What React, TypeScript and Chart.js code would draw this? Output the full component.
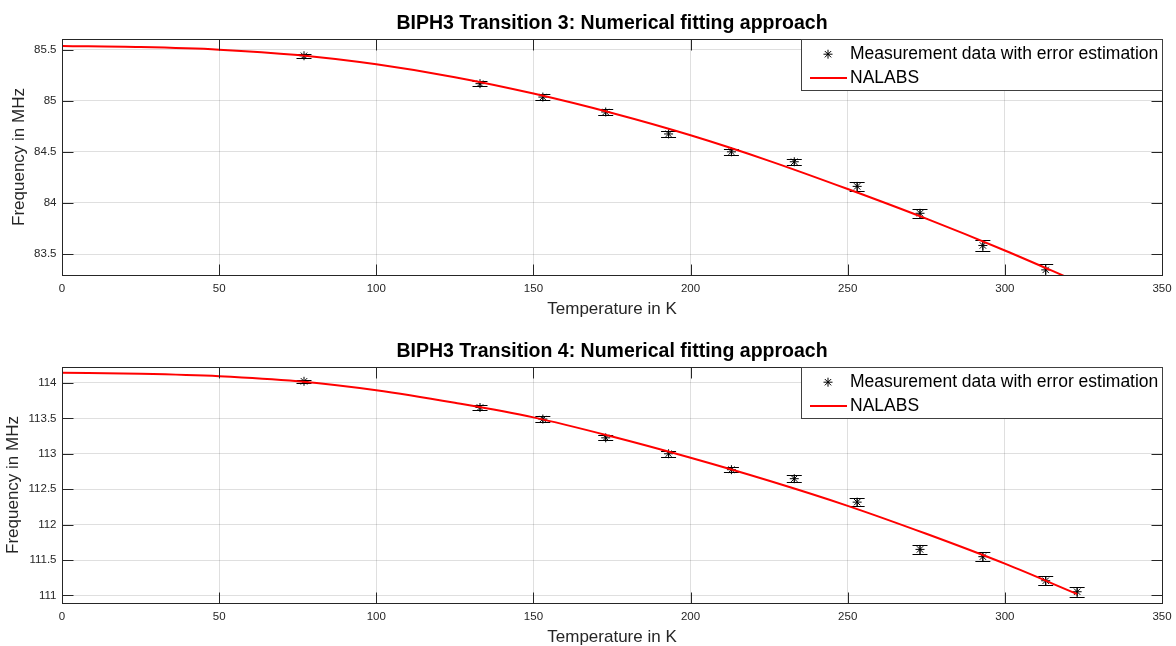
import React, { useEffect, useRef } from "react";
import { Chart, registerables } from "chart.js";

Chart.register(...registerables);

const FONT = '"Liberation Sans", Arial, Helvetica, sans-serif';

// ---------------- data ----------------
const tempsT3 = [77, 133, 153, 173, 193, 213, 233, 253, 273, 293, 313];
const freqT3 = [85.44, 85.167, 85.036, 84.89, 84.675, 84.5, 84.403, 84.162, 83.899, 83.584, 83.345];
const errT3 = [0.018, 0.023, 0.028, 0.026, 0.028, 0.029, 0.031, 0.047, 0.045, 0.054, 0.055];

const tempsT4 = [77, 133, 153, 173, 193, 213, 233, 253, 273, 293, 313, 323];
const freqT4 = [114.023, 113.653, 113.49, 113.225, 113.0, 112.775, 112.648, 112.317, 111.65, 111.547, 111.207, 111.052];
const errT4 = [0.025, 0.033, 0.038, 0.035, 0.04, 0.038, 0.047, 0.059, 0.063, 0.066, 0.066, 0.07];

const fitTemps = [0, 25, 50, 75, 100, 125, 150, 175, 200, 225, 250, 275, 300, 323];
const fitT3 = [85.535, 85.525, 85.5, 85.447, 85.356, 85.23, 85.07, 84.88, 84.662, 84.412, 84.136, 83.846, 83.535, 83.23];
const fitT4 = [114.145, 114.13, 114.096, 114.025, 113.898, 113.72, 113.514, 113.244, 112.944, 112.619, 112.265, 111.87, 111.448, 111.02];

const xTicks = [0, 50, 100, 150, 200, 250, 300, 350];
const xRange = [0, 350];
const yTicksT3 = [83.5, 84, 84.5, 85, 85.5];
const yRangeT3 = [83.295, 85.604];
const yTicksT4 = [111, 111.5, 112, 112.5, 113, 113.5, 114];
const yRangeT4 = [110.893, 114.225];

const titleT3 = "BIPH3 Transition 3: Numerical fitting approach";
const titleT4 = "BIPH3 Transition 4: Numerical fitting approach";
const xLabel = "Temperature in K";
const yLabel = "Frequency in MHz";
const legendLabels = ["Measurement data with error estimation", "NALABS"];

// ---------------- styling ----------------
const AXIS_COLOR = "#262626";
const GRID_COLOR = "rgba(38,38,38,0.15)";
const RED = "#ff0000";

type PanelProps = {
  temps: number[];
  freq: number[];
  err: number[];
  fit: number[];
  yTicks: number[];
  yRange: number[];
  title: string;
  padTop: number;
  axisHeight: number;
  yTitleX: number;
};

function drawStar(ctx: CanvasRenderingContext2D, x: number, y: number, r: number) {
  ctx.beginPath();
  ctx.moveTo(x - r, y);
  ctx.lineTo(x + r, y);
  ctx.moveTo(x, y - r);
  ctx.lineTo(x, y + r);
  const d = r * Math.SQRT1_2;
  ctx.moveTo(x - d, y - d);
  ctx.lineTo(x + d, y + d);
  ctx.moveTo(x - d, y + d);
  ctx.lineTo(x + d, y - d);
  ctx.stroke();
}

function makeOverlay(p: PanelProps) {
  return {
    id: "matlabOverlay",
    beforeDatasetsDraw(chart: any) {
      const { ctx, chartArea: a, scales } = chart;
      const xs = scales.x;
      const ys = scales.y;
      ctx.save();
      ctx.beginPath();
      ctx.rect(a.left, a.top, a.right - a.left, a.bottom - a.top);
      ctx.clip();
      ctx.strokeStyle = "#000";
      ctx.lineWidth = 1;
      p.temps.forEach((t, i) => {
        const x = xs.getPixelForValue(t);
        const yHi = Math.round(ys.getPixelForValue(p.freq[i] + p.err[i])) + 0.5;
        const yLo = Math.round(ys.getPixelForValue(p.freq[i] - p.err[i])) + 0.5;
        ctx.beginPath();
        ctx.moveTo(x, yHi);
        ctx.lineTo(x, yLo);
        ctx.moveTo(x - 7.5, yHi);
        ctx.lineTo(x + 7.5, yHi);
        ctx.moveTo(x - 7.5, yLo);
        ctx.lineTo(x + 7.5, yLo);
        ctx.stroke();
      });
      ctx.restore();
    },
    afterDraw(chart: any) {
      const { ctx, chartArea: a, scales } = chart;
      const xs = scales.x;
      const ys = scales.y;
      const L = Math.floor(a.left) + 0.5;
      const R = Math.floor(a.right) + 0.5;
      const T = Math.floor(a.top) + 0.5;
      const B = Math.floor(a.bottom) + 0.5;
      ctx.save();
      ctx.strokeStyle = AXIS_COLOR;
      ctx.lineWidth = 1;
      // inner tick marks
      ctx.beginPath();
      xTicks.forEach((v) => {
        const px = Math.round(xs.getPixelForValue(v)) + 0.5;
        ctx.moveTo(px, B);
        ctx.lineTo(px, B - 11);
        ctx.moveTo(px, T);
        ctx.lineTo(px, T + 11);
      });
      p.yTicks.forEach((v) => {
        const py = Math.round(ys.getPixelForValue(v)) + 0.5;
        ctx.moveTo(L, py);
        ctx.lineTo(L + 11, py);
        ctx.moveTo(R, py);
        ctx.lineTo(R - 11, py);
      });
      ctx.stroke();
      // box
      ctx.strokeRect(L, T, R - L, B - T);

      // legend
      ctx.font = `17.5px ${FONT}`;
      const tw = Math.max(...legendLabels.map((s) => ctx.measureText(s).width));
      const bw = Math.round(48.5 + tw + 4);
      const bx = R - bw;
      const by = T;
      const bh = 51;
      ctx.fillStyle = "#fff";
      ctx.fillRect(bx, by, bw, bh);
      ctx.strokeStyle = "#404040";
      ctx.strokeRect(bx, by, bw, bh);
      const row1 = by + 14.7;
      const row2 = by + 38.5;
      ctx.strokeStyle = "#000";
      ctx.lineWidth = 1;
      drawStar(ctx, bx + 26.5, row1, 4.5);
      ctx.strokeStyle = RED;
      ctx.lineWidth = 2;
      ctx.beginPath();
      ctx.moveTo(bx + 8.5, row2);
      ctx.lineTo(bx + 45.5, row2);
      ctx.stroke();
      ctx.fillStyle = "#000";
      ctx.textAlign = "left";
      ctx.textBaseline = "middle";
      ctx.fillText(legendLabels[0], bx + 48.5, row1);
      ctx.fillText(legendLabels[1], bx + 48.5, row2);

      // title
      ctx.font = `bold 19.5px ${FONT}`;
      ctx.textAlign = "center";
      ctx.fillStyle = "#000";
      ctx.fillText(p.title, (a.left + a.right) / 2, a.top - 15.5);

      // x label
      ctx.font = `17px ${FONT}`;
      ctx.fillStyle = AXIS_COLOR;
      ctx.fillText(xLabel, (a.left + a.right) / 2, a.bottom + 34);

      // y label
      ctx.translate(p.yTitleX, (a.top + a.bottom) / 2);
      ctx.rotate(-Math.PI / 2);
      ctx.fillText(yLabel, 0, 0);
      ctx.restore();
    },
  };
}

function Panel(p: PanelProps) {
  const ref = useRef<HTMLCanvasElement>(null);
  useEffect(() => {
    const canvas = ref.current;
    if (!canvas) return;
    const chart = new Chart(canvas, {
      type: "scatter",
      data: {
        datasets: [
          {
            label: legendLabels[1],
            data: fitTemps.map((t, i) => ({ x: t, y: p.fit[i] })),
            showLine: true,
            borderColor: RED,
            backgroundColor: RED,
            borderWidth: 2,
            pointRadius: 0,
            cubicInterpolationMode: "monotone",
            order: 0,
          } as any,
          {
            label: legendLabels[0],
            data: p.temps.map((t, i) => ({ x: t, y: p.freq[i] })),
            showLine: false,
            pointStyle: "star",
            pointRadius: 4.5,
            borderColor: "#000",
            backgroundColor: "#000",
            borderWidth: 1,
            order: 1,
          } as any,
        ],
      },
      options: {
        animation: false,
        responsive: false,
        devicePixelRatio: 1,
        events: [],
        layout: { padding: { top: p.padTop, right: 14, left: 0, bottom: 0 } },
        plugins: {
          legend: { display: false },
          title: { display: false },
          tooltip: { enabled: false },
        },
        scales: {
          x: {
            type: "linear",
            position: "bottom",
            min: xRange[0],
            max: xRange[1],
            afterBuildTicks: (s: any) => {
              s.ticks = xTicks.map((v) => ({ value: v }));
            },
            afterFit: (s: any) => {
              s.height = p.axisHeight;
              s.paddingLeft = 0;
              s.paddingRight = 0;
            },
            grid: { color: GRID_COLOR, lineWidth: 1, drawTicks: false },
            border: { display: false },
            ticks: {
              padding: 6.5,
              color: AXIS_COLOR,
              font: { family: FONT, size: 11.5 },
              maxRotation: 0,
              autoSkip: false,
              callback: (v: any) => String(v),
            },
          },
          y: {
            type: "linear",
            position: "left",
            min: p.yRange[0],
            max: p.yRange[1],
            afterBuildTicks: (s: any) => {
              s.ticks = p.yTicks.map((v) => ({ value: v }));
            },
            afterFit: (s: any) => {
              s.width = 62;
              s.paddingTop = 0;
              s.paddingBottom = 0;
            },
            grid: { color: GRID_COLOR, lineWidth: 1, drawTicks: false },
            border: { display: false },
            ticks: {
              padding: 5.5,
              color: AXIS_COLOR,
              font: { family: FONT, size: 11.5 },
              autoSkip: false,
              callback: (v: any) => String(v),
            },
          },
        },
      } as any,
      plugins: [makeOverlay(p)],
    });
    return () => chart.destroy();
  }, []);
  return (
    <canvas
      ref={ref}
      width={1176}
      height={323}
      style={{ display: "block", width: 1176, height: 323 }}
    />
  );
}

export default function App() {
  return (
    <div
      style={{
        position: "fixed",
        left: 0,
        top: 0,
        width: 1176,
        height: 646,
        background: "#fff",
      }}
    >
      <Panel
        temps={tempsT3}
        freq={freqT3}
        err={errT3}
        fit={fitT3}
        yTicks={yTicksT3}
        yRange={yRangeT3}
        title={titleT3}
        padTop={39}
        axisHeight={48}
        yTitleX={19.5}
      />
      <Panel
        temps={tempsT4}
        freq={freqT4}
        err={errT4}
        fit={fitT4}
        yTicks={yTicksT4}
        yRange={yRangeT4}
        title={titleT4}
        padTop={44}
        axisHeight={43}
        yTitleX={13}
      />
    </div>
  );
}
